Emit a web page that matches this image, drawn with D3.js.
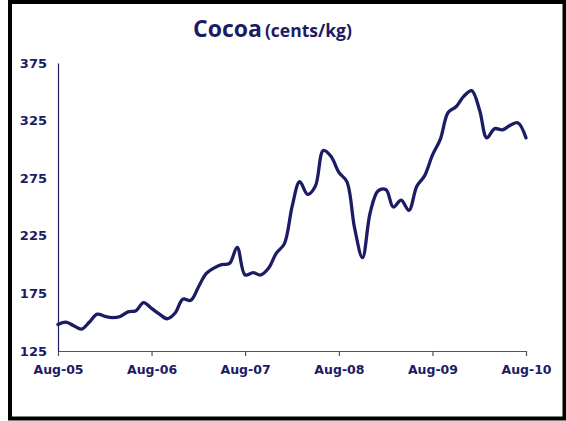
<!DOCTYPE html>
<html>
<head>
<meta charset="utf-8">
<script src="https://cdn.jsdelivr.net/npm/d3@7"></script>
<style>
  html, body { margin: 0; padding: 0; background: #fff; }
  svg { display: block; }
</style>
</head>
<body>
<svg id="chart" width="566" height="421"></svg>
<script>
// ── Data ──────────────────────────────────────────────────────────────────────
// monthly cocoa price, cents/kg, Aug-05 .. Aug-10
const startMonth = new Date(2005, 7, 1);
const prices = [
  148, 150, 147, 144, 150, 157, 155, 154, 155, 159, 160, 167,
  162, 157, 153, 158, 170, 169, 181, 192, 197, 200, 201, 215,
  191, 193, 191, 197, 210, 218, 251, 272, 261, 268, 299, 294,
  280, 272, 232, 206, 245, 264, 265, 250, 256, 247, 268, 277,
  295, 309, 332, 337, 346, 351, 334, 310, 318, 317, 321, 323,
  310
];
const yTicks = [125, 175, 225, 275, 325, 375];
const xTickYears = [2005, 2006, 2007, 2008, 2009, 2010];

const NAVY = "#1c1c64";

// ── Setup ─────────────────────────────────────────────────────────────────────
const svg = d3.select("#chart");

// outer frame
svg.append("rect")
  .attr("x", 10).attr("y", 2)
  .attr("width", 554.5).attr("height", 416.5)
  .attr("fill", "none").attr("stroke", "#000").attr("stroke-width", 4);

const plotL = 58, plotR = 526, plotT = 63, plotB = 351;

const data = prices.map((v, i) => ({
  date: new Date(startMonth.getFullYear(), startMonth.getMonth() + i, 1),
  value: v
}));

const x = d3.scaleTime()
  .domain([data[0].date, data[data.length - 1].date])
  .range([plotL, plotR]);

const y = d3.scaleLinear().domain([125, 375]).range([plotB, plotT]);

// ── Title ─────────────────────────────────────────────────────────────────────
const title = svg.append("text")
  .attr("x", 272.5).attr("y", 37)
  .attr("text-anchor", "middle")
  .attr("fill", NAVY)
  .attr("font-family", "'Open Sans', sans-serif")
  .attr("font-weight", "bold");
title.append("tspan").attr("font-size", 23).text("Cocoa");
title.append("tspan").attr("font-size", 17.5).attr("dx", 3).text("(cents/kg)");

// ── Axes ──────────────────────────────────────────────────────────────────────
const xAxis = d3.axisBottom(x)
  .tickValues(xTickYears.map(yr => new Date(yr, 7, 1)))
  .tickFormat(d3.timeFormat("Aug-%y"))
  .tickSize(5).tickPadding(9).tickSizeOuter(0);

const gx = svg.append("g")
  .attr("transform", `translate(0,${plotB})`)
  .call(xAxis);
gx.select(".domain").attr("stroke", "#555").attr("stroke-width", 1.2);
gx.selectAll(".tick line").attr("stroke", "#555").attr("stroke-width", 1.2);
gx.selectAll(".tick text")
  .attr("fill", NAVY)
  .attr("font-family", "'DejaVu Sans', sans-serif")
  .attr("font-weight", "bold")
  .attr("font-size", 12.5);

const yAxis = d3.axisLeft(y)
  .tickValues(yTicks)
  .tickSize(0).tickPadding(11).tickSizeOuter(0);

const gy = svg.append("g")
  .attr("transform", `translate(${plotL},0)`)
  .call(yAxis);
gy.select(".domain").attr("stroke", NAVY).attr("stroke-width", 1.2);
gy.selectAll(".tick text")
  .attr("fill", NAVY)
  .attr("font-family", "'DejaVu Sans', sans-serif")
  .attr("font-weight", "bold")
  .attr("font-size", 13);

// ── Line ──────────────────────────────────────────────────────────────────────
const line = d3.line()
  .x(d => x(d.date))
  .y(d => y(d.value))
  .curve(d3.curveCatmullRom.alpha(0.5));

svg.append("path")
  .datum(data)
  .attr("fill", "none")
  .attr("stroke", NAVY)
  .attr("stroke-width", 3.3)
  .attr("stroke-linejoin", "round")
  .attr("stroke-linecap", "round")
  .attr("d", line);
</script>
</body>
</html>
